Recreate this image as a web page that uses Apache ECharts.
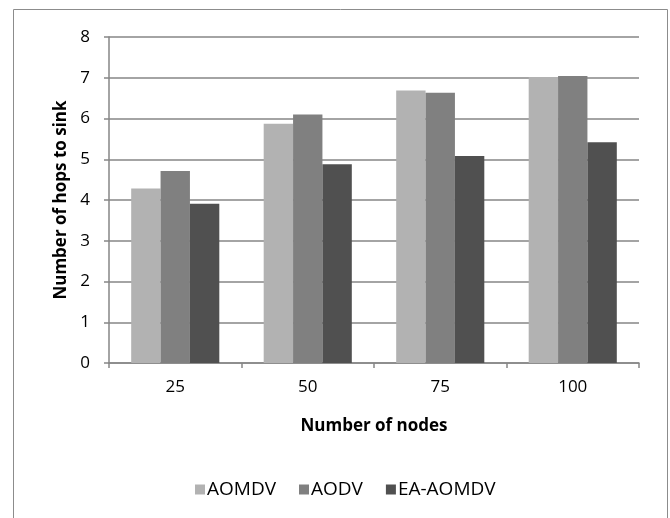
<!DOCTYPE html>
<html><head><meta charset="utf-8">
<script src="https://cdn.jsdelivr.net/npm/echarts@6/dist/echarts.min.js"></script>
<style>html,body{margin:0;padding:0;background:#fff}#c{width:670px;height:518px}</style>
</head><body><div id="c"></div>
<script>
const categories = ['25', '50', '75', '100'];
const aomdv = [4.28, 5.87, 6.69, 7.02];
const aodv = [4.71, 6.1, 6.63, 7.04];
const eaAomdv = [3.91, 4.88, 5.08, 5.42];
const seriesNames = ['AOMDV', 'AODV', 'EA-AOMDV'];
const colors = ['#b2b2b2', '#808080', '#505050'];
const FONT = '"Open Sans", "Liberation Sans", sans-serif';

const chart = echarts.init(document.getElementById('c'), null, {renderer: 'canvas'});
const data = [aomdv, aodv, eaAomdv];
chart.setOption({
  animation: false,
  graphic: [{
    type: 'rect', shape: {x: 13.5, y: 9.5, width: 654, height: 600},
    style: {fill: 'none', stroke: '#8c8c8c', lineWidth: 1}, silent: true, z: -1
  }],
  grid: {left: 109, right: 31, top: 37, bottom: 155, containLabel: false},
  legend: {
    data: seriesNames, top: 475, left: 190, itemWidth: 10, itemHeight: 10, itemGap: 23,
    icon: 'rect',
    textStyle: {fontFamily: FONT, fontSize: 19, color: '#000', padding: [0, 0, 0, -3]}
  },
  xAxis: {
    type: 'category', data: categories,
    name: 'Number of nodes', nameLocation: 'middle', nameGap: 55, nameMoveOverlap: false,
    nameTextStyle: {fontFamily: FONT, fontSize: 17, fontWeight: 'bold', color: '#000'},
    axisLine: {lineStyle: {color: '#868686', width: 1.5}},
    axisTick: {show: true, length: 5, lineStyle: {color: '#868686', width: 1.5}},
    axisLabel: {fontFamily: FONT, fontSize: 17, color: '#000', margin: 16}
  },
  yAxis: {
    type: 'value', min: 0, max: 8, interval: 1,
    name: 'Number of hops to sink', nameLocation: 'middle', nameGap: 13, nameRotate: 90,
    nameTextStyle: {fontFamily: FONT, fontSize: 17, fontWeight: 'bold', color: '#000'},
    axisLine: {show: true, lineStyle: {color: '#868686', width: 1.5}},
    axisTick: {show: true, length: 5, lineStyle: {color: '#868686', width: 1.5}},
    axisLabel: {fontFamily: FONT, fontSize: 17, color: '#000', margin: 19},
    splitLine: {lineStyle: {color: '#868686', width: 1.5}}
  },
  series: seriesNames.map((n, i) => ({
    name: n, type: 'bar', data: data[i],
    barGap: '0%', barCategoryGap: '33.5%',
    itemStyle: {color: colors[i]}
  }))
});
</script></body></html>
